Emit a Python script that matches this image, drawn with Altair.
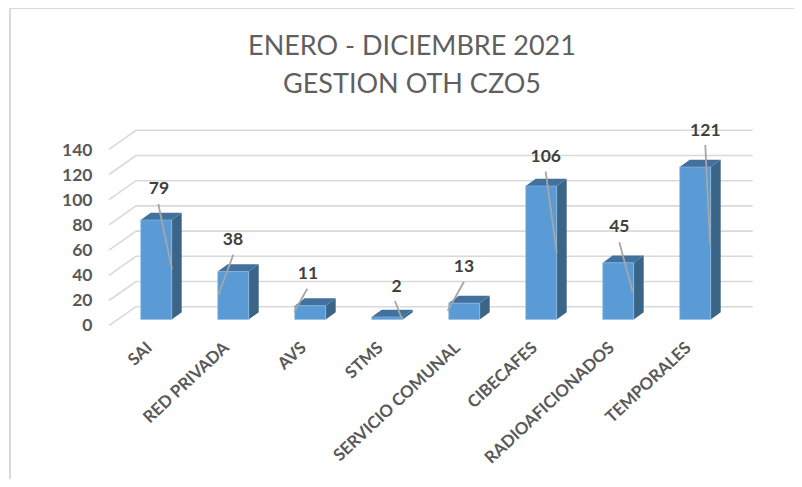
import altair as alt
import pandas as pd

categories = ["SAI", "RED PRIVADA", "AVS", "STMS", "SERVICIO COMUNAL", "CIBECAFES", "RADIOAFICIONADOS", "TEMPORALES"]
values = [79, 38, 11, 2, 13, 106, 45, 121]
tick_values = [0, 20, 40, 60, 80, 100, 120, 140]
title_lines = ["ENERO - DICIEMBRE 2021", "GESTION OTH CZO5"]

# layout: page-pixel calibration of the scales
PLOT_L, PLOT_R, PLOT_T, PLOT_B = 100, 760, 120, 330
X0, XSTEP = 156.2, 77.0          # centre of first bar, bar spacing
Y0, YK = 319.5, 1.26             # baseline of bars, px per unit
AX0, AXK = 325.7, 1.248          # axis-label calibration
def ix(px): return (px - X0) / XSTEP
def iy(py): return (Y0 - py) / YK

HALF = 15.5 / XSTEP
DX = 10 / XSTEP
DY = 7.3 / YK

# leader/label annotations, page pixels
label_px = [(159, 189), (233, 240), (308, 274), (396.7, 286.7), (464, 266.7), (545.7, 157), (619.3, 227), (705.3, 130.7)]
leader_px = [(158.3, 204, 172, 269.3), (233.3, 254.7, 218.3, 295), (307.3, 288.7, 294.3, 311.7), (395, 301, 401.7, 318.3),
             (464, 281.7, 447.7, 310.7), (545.7, 171.7, 556.7, 252.7), (619.3, 242.3, 632.7, 291.7), (705.3, 145, 710, 244)]
title_px = [(412, 46.5), (412, 84.5)]

bars = pd.DataFrame({"i": range(8), "cat": categories, "v": values})
bars["x"] = bars.i - HALF
bars["x1"] = bars.i + HALF
bars["b"] = 0

side, top = [], []
for i, v in enumerate(values):
    x0, x1 = i - HALF, i + HALF
    side += [dict(i=i, x=x1, y=v, y2=0), dict(i=i, x=x1 + DX, y=v + DY, y2=DY)]
    top += [dict(i=i, x=x0, y=v, y2=v), dict(i=i, x=x0 + DX, y=v + DY, y2=v),
            dict(i=i, x=x1, y=v + DY, y2=v), dict(i=i, x=x1 + DX, y=v + DY, y2=v + DY)]
side = pd.DataFrame(side)
top = pd.DataFrame(top)

grid = []
for t in tick_values:
    back = iy(306.7 - 1.26 * t)
    front = iy(325.7 - 1.26 * t)
    grid += [dict(t=t, x=ix(109), y=front), dict(t=t, x=ix(136), y=back), dict(t=t, x=ix(752.7), y=back)]
grid = pd.DataFrame(grid)

labels = pd.DataFrame({"x": [ix(p[0]) for p in label_px], "y": [iy(p[1]) for p in label_px], "v": values})
leaders = pd.DataFrame({"x": [ix(p[0]) for p in leader_px], "y": [iy(p[1]) for p in leader_px],
                        "x2": [ix(p[2]) for p in leader_px], "y2": [iy(p[3]) for p in leader_px]})
titles = pd.DataFrame({"x": [ix(p[0]) for p in title_px], "y": [iy(p[1]) for p in title_px], "t": title_lines})

xs = alt.Scale(domain=[ix(PLOT_L), ix(PLOT_R)], nice=False, zero=False)
ys = alt.Scale(domain=[iy(PLOT_B), iy(PLOT_T)], nice=False, zero=False)
ax_s = alt.Scale(domain=[(AX0 - PLOT_B) / AXK, (AX0 - PLOT_T) / AXK], nice=False, zero=False)

label_expr = "[" + ",".join(f"'{c}'" for c in categories) + "][datum.value]"
x_axis = alt.Axis(values=list(range(8)), labelExpr=label_expr, labelAngle=-43, labelAlign="right", labelBaseline="middle",
                  labelFont="Lato", labelFontSize=16.8, labelFontWeight="bold", labelColor="#595959", labelPadding=15,
                  labelOffset=-7, labelOverlap=False, labelBound=False, labelFlush=False, domain=False, ticks=False, grid=False, title=None)

X = alt.X("x:Q", scale=xs, axis=x_axis)
Y = alt.Y("y:Q", scale=ys, axis=None)

grid_l = alt.Chart(grid).mark_line(color="#d9d9d9", strokeWidth=1.6, clip=False).encode(X, Y, detail="t:N", order=alt.Order("x:Q"))
front_l = alt.Chart(bars).mark_rect(color="#5b9bd5", stroke="#8fbce6", strokeWidth=0.6).encode(
    X, x2="x1:Q", y=alt.Y("b:Q", scale=ys, axis=None), y2="v:Q")
side_l = alt.Chart(side).mark_area(color="#3a6587", interpolate="linear").encode(X, Y, y2="y2:Q", detail="i:N")
top_l = alt.Chart(top).mark_area(color="#41719c", interpolate="linear").encode(X, Y, y2="y2:Q", detail="i:N")
leader_l = alt.Chart(leaders).mark_rule(color="#a6a6a6", strokeWidth=1.8).encode(X, Y, x2="x2:Q", y2="y2:Q")
text_l = alt.Chart(labels).mark_text(font="Lato", fontSize=17.5, fontWeight="bold", color="#404040").encode(X, Y, text="v:Q")
title_l = alt.Chart(titles).mark_text(font="Lato", fontSize=27, color="#5f5f5f").encode(X, Y, text="t:N")

frame_data = pd.DataFrame({"a": [0]})
frame_top = alt.Chart(frame_data).mark_rule(color="#d9d9d9", strokeWidth=2).encode(
    x=alt.value(9 - PLOT_L), x2=alt.value(802 - PLOT_L), y=alt.value(8 - PLOT_T))
frame_left = alt.Chart(frame_data).mark_rule(color="#d9d9d9", strokeWidth=2).encode(
    x=alt.value(10 - PLOT_L), y=alt.value(8 - PLOT_T), y2=alt.value(487 - PLOT_T))

main = alt.layer(frame_top, frame_left, grid_l, side_l, top_l, front_l, leader_l, text_l, title_l)

axis_layer = alt.Chart(pd.DataFrame({"t": tick_values})).mark_rule(opacity=0).encode(
    y=alt.Y("t:Q", scale=ax_s, axis=alt.Axis(orient="left", values=tick_values, domain=False, ticks=False, grid=False, title=None,
            labelFont="Lato", labelFontSize=17.5, labelFontWeight="bold", labelColor="#595959", labelPadding=8, labelBaseline="middle", labelOverlap=False)))

chart = alt.layer(main, axis_layer).resolve_scale(y="independent").properties(
    width=PLOT_R - PLOT_L, height=PLOT_B - PLOT_T,
    background="white",
    autosize=alt.AutoSizeParams(type="none"),
    padding={"left": PLOT_L - 8, "top": PLOT_T - 8, "right": 786 - (PLOT_R - 8), "bottom": 471 - (PLOT_B - 8)},
).configure_view(strokeWidth=0, stroke="transparent")

chart.save("out.html", embed_options={"renderer": "svg", "actions": False})
